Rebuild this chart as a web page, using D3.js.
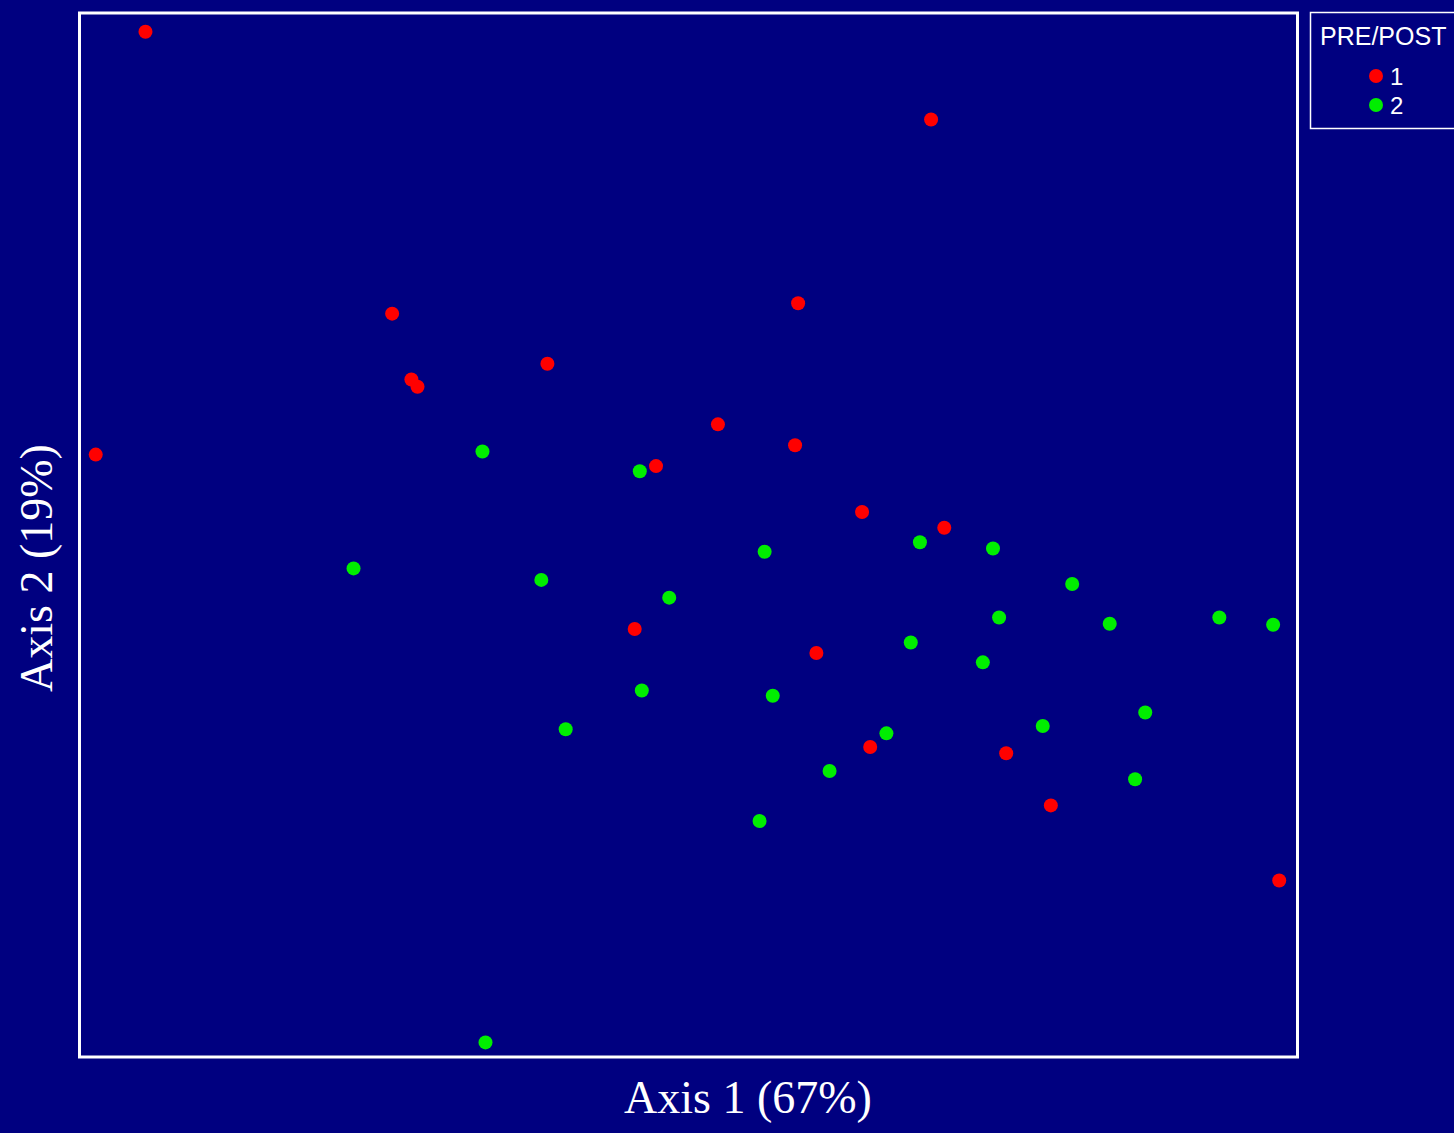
<!DOCTYPE html>
<html>
<head>
<meta charset="utf-8">
<script src="https://cdn.jsdelivr.net/npm/d3@7"></script>
<style>
  html, body { margin: 0; padding: 0; background: #000080; }
  svg { display: block; }
</style>
</head>
<body>
<svg id="chart"></svg>
<script>
  // group 1 (pre) coordinates
  var preAxis1 = [-0.535, 0.239, -0.292, 0.108, -0.273, -0.267, -0.139, -0.584, 0.029, 0.105,
                  -0.032, 0.171, 0.252, -0.053, 0.126, 0.179, 0.313, 0.357, 0.582];
  var preAxis2 = [0.482, 0.398, 0.212, 0.222, 0.149, 0.142, 0.164, 0.077, 0.106, 0.086,
                  0.066, 0.022, 0.007, -0.090, -0.113, -0.203, -0.209, -0.259, -0.331];

  // group 2 (post) coordinates
  var postAxis1 = [-0.203, -0.048, -0.330, -0.145, -0.019, 0.075, 0.228, 0.300, 0.378, 0.306,
                   0.415, 0.523, 0.576, 0.219, 0.290, -0.046, 0.083, -0.121, 0.195, 0.349,
                   0.450, 0.139, 0.440, 0.070, -0.200];
  var postAxis2 = [0.080, 0.061, -0.032, -0.043, -0.060, -0.016, -0.007, -0.013, -0.047, -0.079,
                   -0.085, -0.079, -0.086, -0.103, -0.122, -0.149, -0.154, -0.186, -0.190, -0.183,
                   -0.170, -0.226, -0.234, -0.274, -0.486];

  var groups = ["1", "2"];
  var groupColors = ["#ff0000", "#00ee00"];
  var legendTitle = "PRE/POST";
  var xLabel = "Axis 1 (67%)";
  var yLabel = "Axis 2 (19%)";

  var width = 1454, height = 1133;
  var plot = { left: 79.5, top: 13, right: 1297.5, bottom: 1057 };

  var svg = d3.select("#chart")
    .attr("width", width)
    .attr("height", height);

  svg.append("rect")
    .attr("width", width)
    .attr("height", height)
    .attr("fill", "#000080");

  var x = d3.scaleLinear().domain([-0.6, 0.6]).range([plot.left, plot.right]);
  var y = d3.scaleLinear().domain([-0.5, 0.5]).range([plot.bottom, plot.top]);
  var color = d3.scaleOrdinal().domain(groups).range(groupColors);

  // build point table from the arrays
  var points = [];
  preAxis1.forEach(function (v, i) {
    points.push({ a1: v, a2: preAxis2[i], g: "1" });
  });
  postAxis1.forEach(function (v, i) {
    points.push({ a1: v, a2: postAxis2[i], g: "2" });
  });

  // plot frame
  svg.append("rect")
    .attr("x", plot.left)
    .attr("y", plot.top)
    .attr("width", plot.right - plot.left)
    .attr("height", plot.bottom - plot.top)
    .attr("fill", "none")
    .attr("stroke", "#ffffff")
    .attr("stroke-width", 3);

  svg.append("g")
    .selectAll("circle")
    .data(points)
    .join("circle")
    .attr("cx", function (d) { return x(d.a1); })
    .attr("cy", function (d) { return y(d.a2); })
    .attr("r", 7)
    .attr("fill", function (d) { return color(d.g); });

  // axis titles
  svg.append("text")
    .attr("x", 748)
    .attr("y", 1113)
    .attr("text-anchor", "middle")
    .attr("fill", "#ffffff")
    .style("font-family", "'Liberation Serif', 'DejaVu Serif', serif")
    .style("font-size", "46px")
    .style("font-variant-numeric", "oldstyle-nums")
    .text(xLabel);

  svg.append("text")
    .attr("transform", "translate(52,568) rotate(-90)")
    .attr("text-anchor", "middle")
    .attr("fill", "#ffffff")
    .style("font-family", "'Liberation Serif', 'DejaVu Serif', serif")
    .style("font-size", "46px")
    .style("font-variant-numeric", "oldstyle-nums")
    .text(yLabel);

  // legend
  var legend = svg.append("g");
  legend.append("rect")
    .attr("x", 1310.5)
    .attr("y", 12.5)
    .attr("width", 160)
    .attr("height", 116)
    .attr("fill", "none")
    .attr("stroke", "#ffffff")
    .attr("stroke-width", 1.5);

  legend.append("text")
    .attr("x", 1320)
    .attr("y", 45)
    .attr("fill", "#ffffff")
    .style("font-family", "'Liberation Sans', Arial, sans-serif")
    .style("font-size", "25px")
    .text(legendTitle);

  var items = legend.selectAll("g.item")
    .data(groups)
    .join("g")
    .attr("class", "item")
    .attr("transform", function (d, i) { return "translate(1376," + (76 + i * 29) + ")"; });

  items.append("circle")
    .attr("r", 7)
    .attr("fill", function (d) { return color(d); });

  items.append("text")
    .attr("x", 14)
    .attr("y", 9)
    .attr("fill", "#ffffff")
    .style("font-family", "'Liberation Sans', Arial, sans-serif")
    .style("font-size", "24px")
    .text(function (d) { return d; });
</script>
</body>
</html>
